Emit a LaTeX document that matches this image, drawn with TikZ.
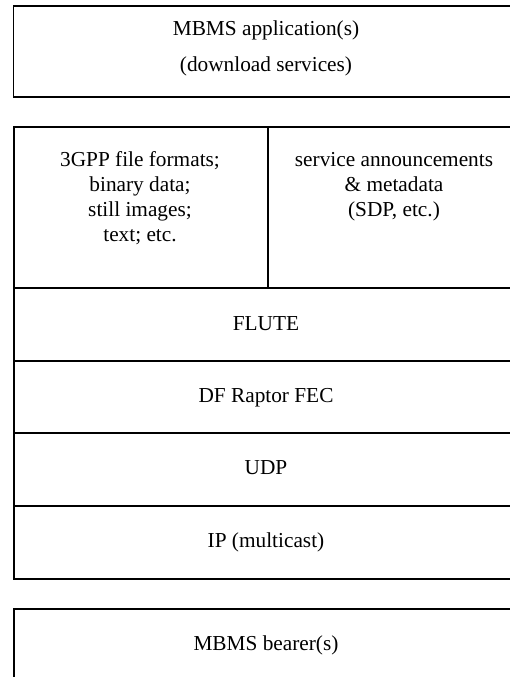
\documentclass[tikz,border=0pt]{standalone}
\usepackage{fontspec}
\setmainfont{Liberation Serif}
\begin{document}
\begin{tikzpicture}[x=1pt,y=-1pt,
  layer/.style={draw=black,line width=1.8pt,rectangle,inner sep=0pt,anchor=north west},
  lbl/.style={anchor=base,inner sep=0pt,font=\fontsize{21.3}{25}\selectfont}]
\useasboundingbox (0,0) rectangle (510,677);
\clip (0,0) rectangle (510,677);
% application box
\node[layer,minimum width=509pt,minimum height=91pt] (app) at (12.5,5) {};
% split row: payload formats and service announcements
\node[layer,minimum width=254pt,minimum height=161pt] (formats) at (13,126) {};
\node[layer,minimum width=254pt,minimum height=161pt] (announce) at (267,126) {};
% protocol layers
\node[layer,minimum width=508pt,minimum height=73pt] (flute) at (13,287) {};
\node[layer,minimum width=508pt,minimum height=72pt] (fec) at (13,360) {};
\node[layer,minimum width=508pt,minimum height=73pt] (udp) at (13,432) {};
\node[layer,minimum width=508pt,minimum height=73pt] (ip) at (13,505) {};
% bearer box
\node[layer,minimum width=508pt,minimum height=100pt] (bearer) at (13,608) {};
% texts
\node[lbl] (t1) at (266,36) {MBMS application(s)};
\node[lbl] (t2) at (266,71) {(download services)};
\node[lbl] (f1) at (140,166) {3GPP file formats;};
\node[lbl] (f2) at (140,191) {binary data;};
\node[lbl] (f3) at (140,216) {still images;};
\node[lbl] (f4) at (140,241) {text; etc.};
\node[lbl] (a1) at (394,166) {service announcements};
\node[lbl] (a2) at (394,191) {\& metadata};
\node[lbl] (a3) at (394,216) {(SDP, etc.)};
\node[lbl] (tf) at (266,330) {FLUTE};
\node[lbl] (tr) at (266,402) {DF Raptor FEC};
\node[lbl] (tu) at (266,474) {UDP};
\node[lbl] (ti) at (266,547) {IP (multicast)};
\node[lbl] (tb) at (266,650) {MBMS bearer(s)};
\end{tikzpicture}
\end{document}
